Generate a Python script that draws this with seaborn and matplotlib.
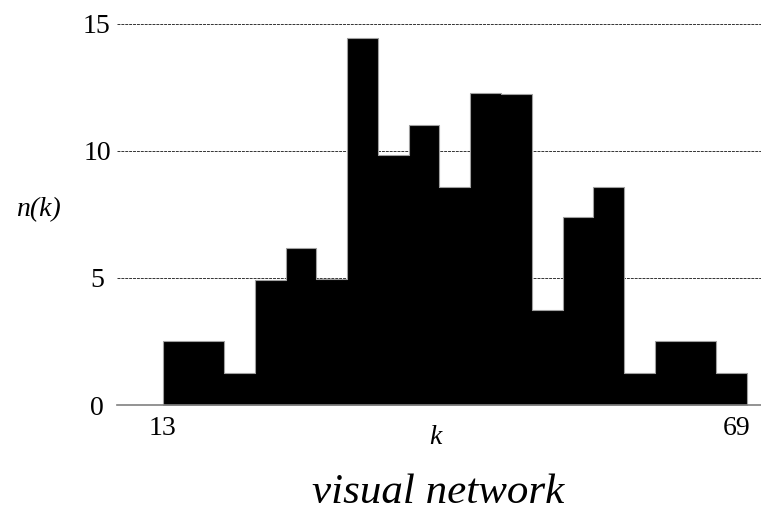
"""Degree histogram of the visual network."""

import matplotlib

matplotlib.use("Agg")
import matplotlib.pyplot as plt
import seaborn as sns

# bin edges in k (width 3) and bar heights n(k)
k_edges = [13, 16, 19, 22, 25, 28, 31, 34, 37, 40, 43, 46, 49, 52, 55, 58, 61, 64, 67, 70]
n_k = [2.52, 2.52, 1.27, 4.93, 6.16, 4.94, 14.45, 9.83, 11.03, 8.58,
       12.26, 12.22, 3.72, 7.38, 8.58, 1.27, 2.52, 2.52, 1.27]
x_ticks = [13, 69]
y_ticks = [0, 5, 10, 15]

sns.set_style("white")
plt.rcParams["font.family"] = ["Liberation Serif", "DejaVu Serif"]
plt.rcParams["text.color"] = "black"
plt.rcParams["xtick.color"] = "black"
plt.rcParams["ytick.color"] = "black"

fig = plt.figure(figsize=(7.61, 5.16), dpi=100)
ax = fig.add_axes([0.1537, 0.2151, 0.8463, 0.7389])

# grid behind the bars
for y in y_ticks[1:]:
    ax.axhline(y, color="#333333", lw=0.7, ls=(0, (3, 1)), zorder=0)

sns.histplot(
    x=k_edges[:-1],
    weights=n_k,
    bins=k_edges,
    element="step",
    color="black",
    edgecolor="#a0a0a0",
    linewidth=0.8,
    alpha=1,
    ax=ax,
    zorder=2,
)

ax.set_xlim(8.55, 71.35)
ax.set_ylim(0, 15)
ax.set_xticks(x_ticks)
ax.set_yticks(y_ticks)
ax.tick_params(axis="x", length=8, width=0.8, color="#555555", pad=0, labelsize=20)
ax.tick_params(axis="y", length=0, pad=14.4, labelsize=20)
for t in ax.get_yticklabels():
    t.set_ha("center")

for side in ["left", "top", "right"]:
    ax.spines[side].set_visible(False)
ax.spines["bottom"].set_color("#808080")
ax.spines["bottom"].set_linewidth(1.2)
ax.spines["bottom"].set_zorder(3)
ax.set_xlabel("")
ax.set_ylabel("")

fig.text(38 / 761, 1 - 210 / 516, "n(k)", fontsize=20, style="italic", ha="center", va="center")
fig.text(435 / 761, 1 - 437 / 516, "k", fontsize=20, style="italic", ha="center", va="center")
fig.text(438 / 761, 1 - 493 / 516, "visual network", fontsize=31, style="italic",
         ha="center", va="center")

fig.savefig("out.png", dpi=100)
plt.close(fig)
